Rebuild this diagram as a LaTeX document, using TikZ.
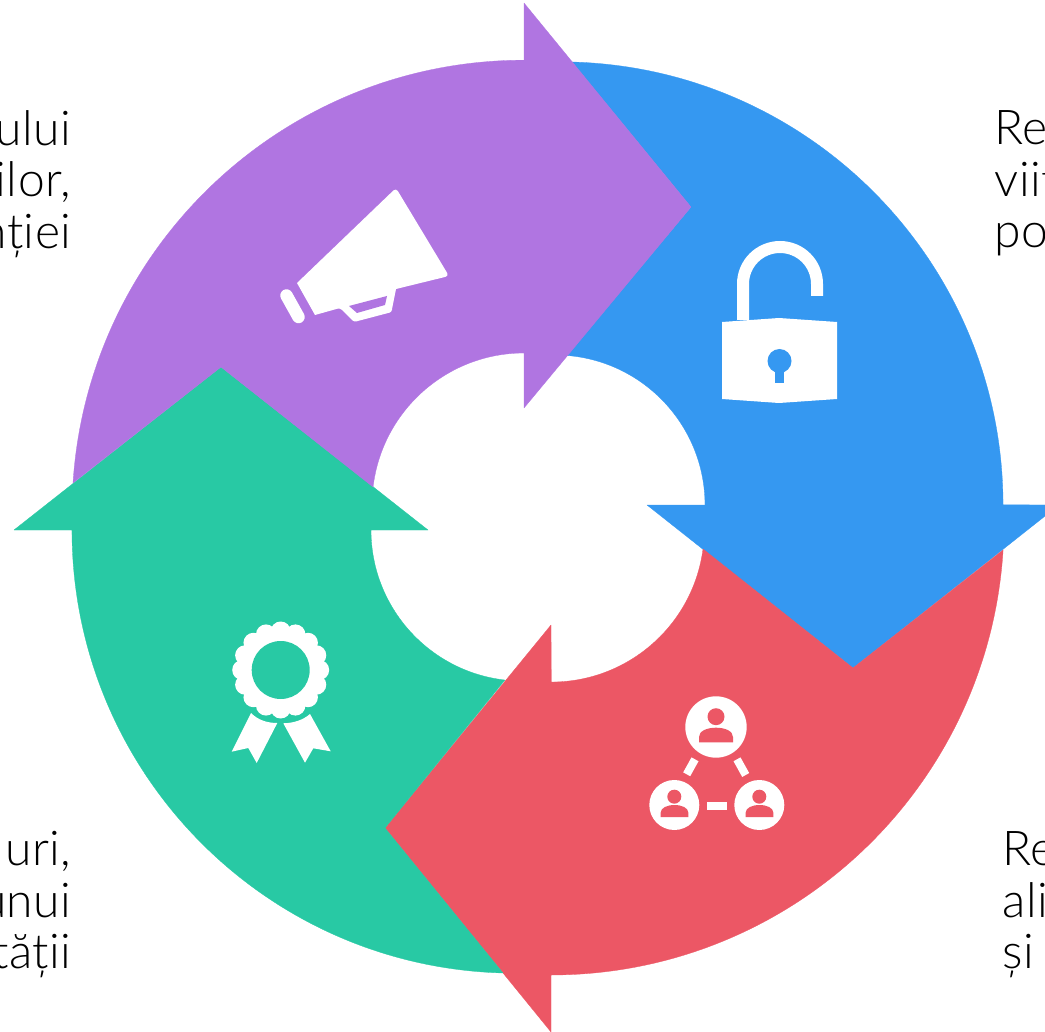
\documentclass[tikz,border=0pt]{standalone}
\usepackage{fontspec}
\setmainfont[LetterSpace=1]{Lato Light}
\definecolor{cpurple}{RGB}{176,117,225}
\definecolor{cblue}{RGB}{53,152,241}
\definecolor{cred}{RGB}{236,87,101}
\definecolor{cgreen}{RGB}{40,201,164}
\tikzset{
  band/.style={line width=0.3pt,line join=round},
  lbl/.style={font=\fontsize{48}{48}\selectfont,text=black,inner sep=0pt},
  lblL/.style={lbl,anchor=base east},
  lblR/.style={lbl,anchor=base west},
  icon/.style={fill=white,draw=none}
}
\begin{document}
\begin{tikzpicture}[x=1pt,y=-1pt]
\useasboundingbox (0,0) rectangle (1045,1032);
\clip (0,0) rectangle (1045,1032);
% blue
\draw[band,draw=cblue,fill=cblue] (572,62) arc[start angle=-88.45,end angle=0,radius=443]
  -- (1059,505) -- (853,668) -- (647,505) -- (705,505)
  arc[start angle=0,end angle=-85.4,radius=150] -- (691,207) -- cycle;
% red
\draw[band,draw=cred,fill=cred] (551,975) arc[start angle=90,end angle=3.54,radius=453]
  -- (853,668) -- (703,549) arc[start angle=7.5,end angle=90,radius=153]
  -- (551,625) -- (385,828) -- (551,1032) -- cycle;
% green
\draw[band,draw=cgreen,fill=cgreen] (72,530) -- (14,530) -- (221,367) -- (428,530) -- (371,530)
  arc[start angle=180,end angle=96.5,radius=151] -- (385,828) -- (503,973)
  arc[start angle=91.55,end angle=180,radius=443] -- cycle;
% purple
\draw[band,draw=cpurple,fill=cpurple] (73,483) arc[start angle=-176.3,end angle=-90,radius=452]
  -- (524,3) -- (691,207) -- (524,408) -- (524,353)
  arc[start angle=-90,end angle=-173.2,radius=152] -- (221,367) -- cycle;
% megaphone
\fill[icon] (297,283) [rounded corners=3.5pt] -- (396,188) -- (449,276) [sharp corners] -- (396,289)
  -- (392,309) [rounded corners=2.5pt] -- (392,312) -- (354,322) -- (340,308) [sharp corners] -- (315,315) -- cycle;
\fill[cpurple] (349,306) -- (387,296) -- (385,305) -- (357,313) -- cycle;
\draw[white,line width=12.5pt,line cap=round] (286.5,295.5) -- (298.5,317);
% lock
\draw[white,line width=12pt] (743,320) -- (743,284) arc[start angle=180,end angle=360,radius=37] -- (817,296);
\fill[icon] (722,322) -- (779,318) -- (837,322) -- (837,399) -- (779,403) -- (722,399) -- cycle;
\fill[cblue] (779.5,361) circle[radius=12];
\fill[cblue] (775,365) rectangle (784,383);
% network
\fill[icon] (716,727) circle[radius=30.7];
\fill[icon] (674.3,805) circle[radius=25];
\fill[icon] (759.3,805) circle[radius=25];
\fill[cred] (716,716.7) circle[radius=8.5];
\fill[cred] (699,742.3) -- (699,737) .. controls (699,731) and (707,727.7) .. (716,727.7) .. controls (725,727.7) and (733,731) .. (733,737) -- (733,742.3) -- cycle;
\fill[cred] (674.3,796.7) circle[radius=7];
\fill[cred] (660.7,817) -- (660.7,812.5) .. controls (660.7,808) and (667,805) .. (674.5,805) .. controls (682,805) and (688.3,808) .. (688.3,812.5) -- (688.3,817) -- cycle;
\fill[cred] (759.3,796.7) circle[radius=7];
\fill[cred] (745.7,817) -- (745.7,812.5) .. controls (745.7,808) and (752,805) .. (759.5,805) .. controls (767,805) and (773.3,808) .. (773.3,812.5) -- (773.3,817) -- cycle;
\fill[icon] (707,802) rectangle (727,809.5);
\draw[white,line width=8pt] (695,759.3) -- (686.7,774.3);
\draw[white,line width=8pt] (737,759.3) -- (745.7,775);
% rosette
\fill[icon] (280.7,670) circle[radius=41];
\foreach \a in {0,22.5,...,359} {\fill[icon] (280.7,670) ++(\a:38.5) circle[radius=10];}
\fill[cgreen] (280.7,670) circle[radius=29];
\fill[icon] (251,713) .. controls (258,720) and (267,723) .. (277.3,723) -- (256.7,763) -- (248.3,748) -- (231.7,751.7) -- cycle;
\fill[icon] (310,714) .. controls (303,720) and (294,723) .. (283.3,723.3) -- (305,762.7) -- (313.3,748.3) -- (330.7,751.3) -- cycle;
% labels
\node[lblL] (tl1) at (71.5,146) {ului};
\node[lblL] (tl2) at (71.5,197) {ilor,};
\node[lblL] (tl3) at (71.5,249) {nției};
\node[lblR] (tr1) at (994.5,145) {Re};
\node[lblR] (tr2) at (994.5,197) {viit};
\node[lblR] (tr3) at (994.5,248) {po};
\node[lblL] (bl1) at (71.5,865) {uri,};
\node[lblL] (bl2) at (71.5,917) {unui};
\node[lblL] (bl3) at (71.5,968) {tății};
\node[lblR] (br1) at (1002.5,865) {Re};
\node[lblR] (br2) at (1002.5,917) {ali};
\node[lblR] (br3) at (1002.5,968) {și};
\end{tikzpicture}
\end{document}
